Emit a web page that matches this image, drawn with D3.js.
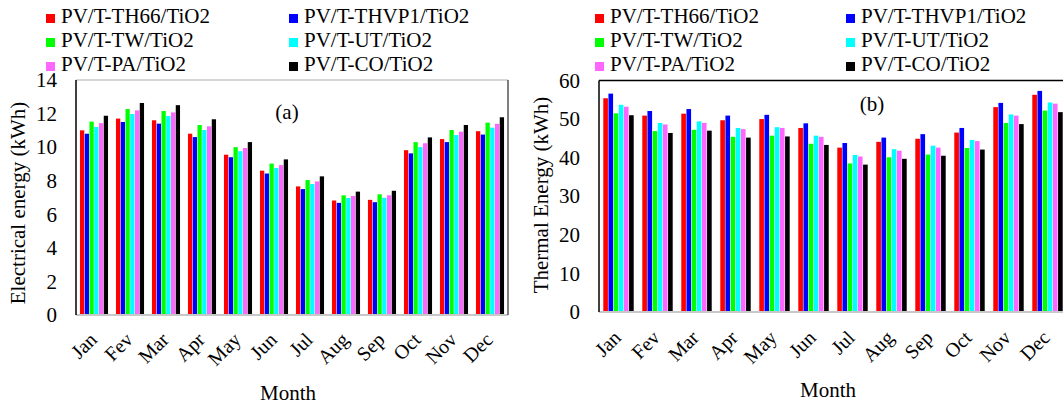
<!DOCTYPE html>
<html><head><meta charset="utf-8">
<script src="https://cdn.jsdelivr.net/npm/d3@7"></script>
<style>body{margin:0;background:#fff}svg{display:block}text{font-family:"Liberation Serif","Times New Roman",serif;fill:#000}</style>
</head><body><svg id="c" width="1063" height="405"></svg>
<script>
const months = ["Jan","Fev","Mar","Apr","May","Jun","Jul","Aug","Sep","Oct","Nov","Dec"];
const series = ["PV/T-TH66/TiO2","PV/T-THVP1/TiO2","PV/T-TW/TiO2","PV/T-UT/TiO2","PV/T-PA/TiO2","PV/T-CO/TiO2"];
const colors = ["#ff0000","#0000ff","#00ff00","#00ffff","#ff66ff","#000000"];
const elecTicks = [0,2,4,6,8,10,12,14];
const thermTicks = [0,10,20,30,40,50,60];

const elecTH66  = [11.0,11.7,11.6,10.8,9.55,8.6,7.66,6.82,6.86,9.82,10.48,10.95];
const elecTHVP1 = [10.8,11.5,11.4,10.6,9.4,8.43,7.5,6.68,6.72,9.63,10.3,10.75];
const elecTW    = [11.52,12.27,12.15,11.32,10.0,9.02,8.04,7.13,7.19,10.3,11.02,11.46];
const elecUT    = [11.2,11.97,11.85,11.02,9.76,8.76,7.8,6.97,6.98,10.0,10.72,11.16];
const elecPA    = [11.43,12.19,12.07,11.24,9.95,8.93,7.96,7.09,7.13,10.23,10.92,11.39];
const elecCO    = [11.87,12.63,12.5,11.66,10.3,9.27,8.26,7.35,7.4,10.58,11.32,11.78];

const thermTH66  = [55.4,50.9,51.4,49.7,50.0,47.7,42.6,44.1,44.9,46.5,53.1,56.3];
const thermTHVP1 = [56.6,52.1,52.6,50.9,51.1,48.9,43.8,45.2,46.1,47.7,54.2,57.3];
const thermTW    = [51.5,46.9,47.2,45.4,45.7,43.6,38.5,40.1,40.8,42.5,49.0,52.2];
const thermUT    = [53.7,49.0,49.4,47.7,47.9,45.7,40.7,42.2,43.1,44.6,51.2,54.3];
const thermPA    = [53.2,48.6,49.0,47.4,47.7,45.4,40.3,41.8,42.6,44.3,50.9,54.0];
const thermCO    = [51.0,46.4,47.0,45.2,45.5,43.3,38.2,39.7,40.5,42.1,48.7,51.8];

const elec = [elecTH66,elecTHVP1,elecTW,elecUT,elecPA,elecCO];
const therm = [thermTH66,thermTHVP1,thermTW,thermUT,thermPA,thermCO];

const svg = d3.select("#c");

function panel(o){
  const g = svg.append("g");
  const x = d3.scaleBand().domain(months).range([o.x0,o.x1]).paddingInner(0.22).paddingOuter(0.11);
  const xs = d3.scaleBand().domain(series).range([0,x.bandwidth()]).paddingInner(0.1);
  const y = d3.scaleLinear().domain([0,o.max]).range([o.y0,o.y1]);
  series.forEach((s,si)=>{
    g.selectAll(null).data(months).enter().append("rect")
      .attr("x",m=>x(m)+xs(s)).attr("width",xs.bandwidth())
      .attr("y",(m,i)=>y(o.data[si][i])).attr("height",(m,i)=>y(0)-y(o.data[si][i]))
      .attr("fill",colors[si]);
  });
  g.append("line").attr("x1",o.x0).attr("x2",Math.min(o.x1,1063)).attr("y1",o.y1).attr("y2",o.y1).attr("stroke",o.topColor).attr("stroke-width",1.5);
  g.append("line").attr("x1",o.x0).attr("x2",Math.min(o.x1,1063)).attr("y1",o.y0).attr("y2",o.y0).attr("stroke","#c8c8c8").attr("stroke-width",2);
  g.append("line").attr("x1",o.x0).attr("x2",o.x0).attr("y1",o.y1).attr("y2",o.y0).attr("stroke","#000").attr("stroke-width",1.5);
  if(o.right) g.append("line").attr("x1",o.x1).attr("x2",o.x1).attr("y1",o.y1).attr("y2",o.y0).attr("stroke","#555").attr("stroke-width",1.5);
  const ya = d3.axisLeft(y).tickValues(o.ticks).tickSize(0).tickPadding(19);
  const yg = g.append("g").attr("transform",`translate(${o.x0},0)`).call(ya);
  yg.select(".domain").remove();
  yg.selectAll("text").style("font-size","21px").attr("font-family","Liberation Serif");
  const xa = d3.axisBottom(x).tickSize(0).tickPadding(0);
  const xg = g.append("g").attr("transform",`translate(0,${o.y0})`).call(xa);
  xg.select(".domain").remove();
  xg.selectAll("text").style("font-size","20px").attr("font-family","Liberation Serif")
    .attr("text-anchor","end").attr("dy",0).attr("y",0)
    .attr("transform",`translate(${o.lbx},${o.lby}) rotate(-45)`);
  g.append("text").attr("x",o.tx).attr("y",o.ty).attr("text-anchor","middle").style("font-size","21px").text(o.ytitle)
   .attr("transform",`rotate(-90,${o.tx},${o.ty})`).attr("dominant-baseline","middle");
  g.append("text").attr("x",o.mx).attr("y",o.my).attr("text-anchor","middle").style("font-size","21px").text("Month");
  g.append("text").attr("x",o.ax).attr("y",o.ay).attr("text-anchor","middle").style("font-size","21px").text(o.label);
  series.forEach((s,i)=>{
    const col = i%2, row = Math.floor(i/2);
    const lx = o.lx[col], ly = o.ly[row];
    g.append("rect").attr("x",lx).attr("y",ly-4).attr("width",9).attr("height",9).attr("fill",colors[i]);
    g.append("text").attr("x",lx+15).attr("y",ly).attr("dominant-baseline","middle").style("font-size","21px").text(s);
  });
}

panel({x0:76,x1:508,y0:315,y1:80,max:14,data:elec,ticks:elecTicks,topColor:"#c8c8c8",right:true,
  ytitle:"Electrical energy (kWh)",tx:20,ty:203,mx:288,my:400,label:"(a)",ax:287,ay:119,
  lx:[46,289],ly:[18,42,66],lbx:4,lby:26});
panel({x0:599,x1:1067,y0:312,y1:80.5,max:60,data:therm,ticks:thermTicks,topColor:"#000",right:false,
  ytitle:"Thermal Energy (kWh)",tx:543,ty:195,mx:828,my:397,label:"(b)",ax:872,ay:111,
  lx:[595,846],ly:[18,42,66],lbx:3.5,lby:27});
</script></body></html>
